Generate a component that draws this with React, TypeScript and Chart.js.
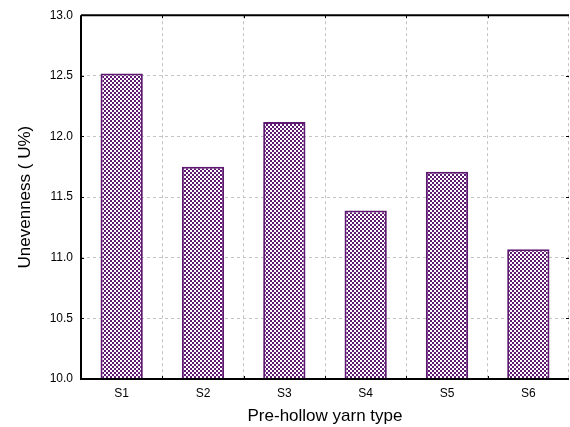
import React, { useEffect, useRef } from "react";
import { Chart, registerables } from "chart.js";

Chart.register(...registerables);

const categories = ["S1", "S2", "S3", "S4", "S5", "S6"];
const unevenness = [12.52, 11.75, 12.12, 11.39, 11.71, 11.07];
const yTicks = [10.0, 10.5, 11.0, 11.5, 12.0, 12.5, 13.0];

const PURPLE = "#5e1a70";

function makeHatch(ctx: CanvasRenderingContext2D): CanvasPattern | string {
  const tile = document.createElement("canvas");
  tile.width = 4;
  tile.height = 4;
  const t = tile.getContext("2d");
  if (!t) return PURPLE;
  t.fillStyle = PURPLE;
  t.fillRect(0, 0, 4, 4);
  t.fillStyle = "#ffffff";
  t.fillRect(0, 0, 2, 2);
  t.fillRect(2, 2, 2, 2);
  return ctx.createPattern(tile, "repeat") || PURPLE;
}

const frame = {
  id: "frame",
  afterDraw(chart: any) {
    const { ctx, chartArea: a, scales } = chart;
    const ys = scales.y;
    const xs = scales.x;
    ctx.save();
    ctx.strokeStyle = "#000";
    ctx.lineWidth = 1;
    // inward tick marks
    ctx.beginPath();
    yTicks.forEach((v) => {
      const y = Math.round(ys.getPixelForValue(v)) + 0.5;
      ctx.moveTo(a.left, y);
      ctx.lineTo(a.left + 3, y);
      ctx.moveTo(a.right, y);
      ctx.lineTo(a.right - 3, y);
    });
    for (let i = 0; i < categories.length - 1; i++) {
      const x = Math.round((xs.getPixelForTick(i) + xs.getPixelForTick(i + 1)) / 2) + 0.5;
      ctx.moveTo(x, a.bottom);
      ctx.lineTo(x, a.bottom - 3);
      ctx.moveTo(x, a.top);
      ctx.lineTo(x, a.top + 3);
    }
    ctx.stroke();
    // axes frame
    ctx.lineWidth = 2;
    ctx.beginPath();
    ctx.moveTo(a.left, a.top);
    ctx.lineTo(a.right, a.top);
    ctx.moveTo(a.left, a.top);
    ctx.lineTo(a.left, a.bottom);
    ctx.lineTo(a.right, a.bottom);
    ctx.stroke();
    ctx.restore();
  },
};

export default function App() {
  const ref = useRef<HTMLCanvasElement>(null);

  useEffect(() => {
    document.body.style.margin = "0";
    const canvas = ref.current;
    if (!canvas) return;
    const ctx = canvas.getContext("2d");
    if (!ctx) return;
    const hatch = makeHatch(ctx);
    const font = "'Liberation Sans', Arial, sans-serif";

    const chart = new Chart(canvas, {
      type: "bar",
      data: {
        labels: categories,
        datasets: [
          {
            data: unevenness,
            backgroundColor: hatch as any,
            borderColor: PURPLE,
            borderWidth: 2,
            barPercentage: 0.52,
            categoryPercentage: 1,
          },
        ],
      },
      options: {
        animation: false,
        responsive: false,
        devicePixelRatio: 1,
        layout: { padding: { top: 14, right: 1, left: 0, bottom: 0 } },
        plugins: { legend: { display: false }, tooltip: { enabled: false } },
        scales: {
          x: {
            grid: { color: "#c4c4c4", lineWidth: 1, drawTicks: false, offset: true },
            border: { display: false, dash: [3, 3] },
            ticks: { color: "#000", font: { family: font, size: 12 }, padding: 7 },
            title: {
              display: true,
              text: "Pre-hollow yarn type",
              color: "#000",
              font: { family: font, size: 17 },
              padding: { top: 4, bottom: 0 },
            },
            afterFit: (s: any) => {
              s.height = 48;
            },
          },
          y: {
            min: 10,
            max: 13,
            afterBuildTicks: (s: any) => {
              s.ticks = yTicks.map((v) => ({ value: v }));
            },
            grid: { color: "#c4c4c4", lineWidth: 1, drawTicks: false },
            border: { display: false, dash: [3, 3] },
            ticks: {
              color: "#000",
              font: { family: font, size: 12 },
              padding: 8,
              callback: (v: any) => Number(v).toFixed(1),
            },
            title: {
              display: true,
              text: "Unevenness ( U%)",
              color: "#000",
              font: { family: font, size: 17 },
              padding: { top: 15, bottom: 0 },
            },
            afterFit: (s: any) => {
              s.width = 81;
            },
          },
        },
      },
      plugins: [frame],
    });
    return () => chart.destroy();
  }, []);

  return (
    <div style={{ position: "absolute", left: 0, top: 0, width: 570, height: 427, background: "#fff" }}>
      <canvas ref={ref} width={570} height={427} />
    </div>
  );
}
